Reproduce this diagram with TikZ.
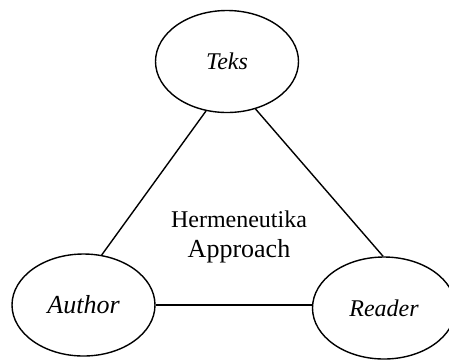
\documentclass[tikz,border=0pt]{standalone}
\usepackage{fontspec}
\setmainfont{Liberation Serif}
\usetikzlibrary{shapes.geometric}

\begin{document}
\begin{tikzpicture} [
    x=1pt, y=-1pt,
    party/.style = { ellipse, draw, line width=1.4pt, inner sep=0pt,
                     minimum width=143pt, minimum height=102pt,
                     font=\fontsize{24}{30}\selectfont\itshape },
    caption/.style = { anchor=base, inner sep=0pt },
    link/.style  = { draw, line width=1.4pt },
  ]
  \useasboundingbox (0,0) rectangle (449,360);
  \node [party] (teks)   at (227,61.5) {Teks};
  \node [party, font=\fontsize{26}{30}\selectfont\itshape]
                (author) at (83.5,305) {Author};
  \node [party] (reader) at (384,308) {Reader};
  \node [caption, font=\fontsize{24}{30}\selectfont]
                (hermeneutika) at (239,227) {Hermeneutika};
  \node [caption, font=\fontsize{26}{30}\selectfont]
                (approach) at (239,257) {Approach};
  % the three sides of the triangle
  \begin{scope} [every path/.style=link]
    \path (teks.247)   -- (author.70);
    \path (teks.301)   -- (reader.91);
    \path (author.east) -- (author.east -| reader.west);
  \end{scope}
\end{tikzpicture}
\end{document}
